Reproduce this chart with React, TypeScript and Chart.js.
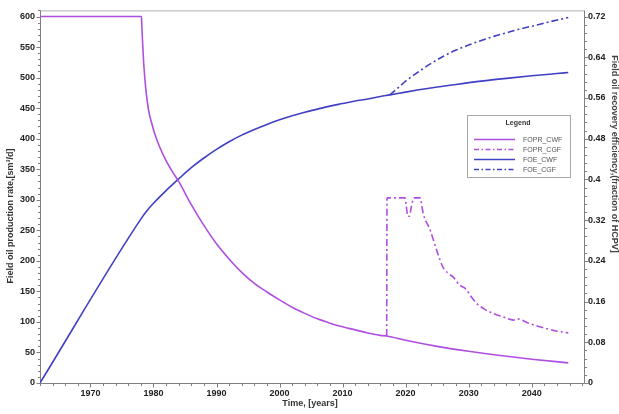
import React, { useEffect, useRef } from "react";
import { Chart, registerables } from "chart.js";

Chart.register(...registerables);

const FONT = "'Liberation Sans', Arial, Helvetica, sans-serif";
const PURPLE = "#b04ee2";
const BLUE = "#4040c4";
const DASH = [7, 3, 2, 3];

// ---- axis ticks ----
const xTickYears = [1970, 1980, 1990, 2000, 2010, 2020, 2030, 2040];
const leftTickValues = [0, 50, 100, 150, 200, 250, 300, 350, 400, 450, 500, 550, 600];
const rightTickValues = [0, 0.08, 0.16, 0.24, 0.32, 0.4, 0.48, 0.56, 0.64, 0.72];

// ---- legend ----
const seriesNames = ["FOPR_CWF", "FOPR_CGF", "FOE_CWF", "FOE_CGF"];
const seriesColors = [PURPLE, PURPLE, BLUE, BLUE];
const seriesDashed = [false, true, false, true];

// ---- series: FOPR_CWF (sm3/d) ----
const foprCwfYears = [1962, 1978.1, 1978.15, 1978.3, 1978.5, 1978.8, 1979.2, 1979.7, 1980.2, 1981, 1982, 1983, 1984, 1986, 1988, 1990, 1992, 1994, 1996, 1998, 2000, 2002, 2004, 2006, 2008, 2010, 2012, 2014, 2016, 2017, 2020, 2025, 2030, 2035, 2040, 2045.8];
const foprCwfValues = [600, 600, 585, 552, 516, 480, 448, 426, 408, 386, 364, 346, 330, 292, 258, 228, 203, 181, 163, 149, 136, 124, 114, 105, 98, 92, 87, 82, 78, 77, 70, 60, 52, 45, 39, 33];

// ---- series: FOPR_CGF (sm3/d) ----
const foprCgfYears = [2017.0, 2017.05, 2019.9, 2020.1, 2020.35, 2020.6, 2020.9, 2021.3, 2022.3, 2022.8, 2023.9, 2025, 2026, 2027, 2027.6, 2028.5, 2029.3, 2029.7, 2030.5, 2031.3, 2032.5, 2033.9, 2035.5, 2037.1, 2037.7, 2038.2, 2039.5, 2041.3, 2043.5, 2045.8];
const foprCgfValues = [77, 303, 303, 290, 273, 273, 288, 303, 303, 277, 250, 215, 188, 178, 173, 161, 156, 152, 140, 130, 121, 114, 108, 103, 105, 104, 98, 92, 86, 82];

// ---- series: FOE_CWF (fraction) ----
const foeCwfYears = [1962, 1978.1, 1979, 1980, 1982, 1984, 1986, 1988, 1990, 1992, 1994, 1996, 1998, 2000, 2002, 2004, 2006, 2008, 2010, 2012, 2014, 2016, 2017.5, 2020, 2024, 2028, 2032, 2036, 2040, 2044, 2045.8];
const foeCwfValues = [0, 0.324, 0.339, 0.353, 0.378, 0.401, 0.423, 0.442, 0.459, 0.474, 0.487, 0.498, 0.508, 0.517, 0.525, 0.532, 0.538, 0.544, 0.549, 0.554, 0.558, 0.563, 0.566, 0.5715, 0.5795, 0.5865, 0.593, 0.5985, 0.6035, 0.608, 0.610];

// ---- series: FOE_CGF (fraction) ----
const foeCgfYears = [2017.5, 2019, 2020, 2022, 2024.2, 2026, 2028, 2030, 2032, 2034, 2036, 2038, 2040.4, 2043, 2045.8];
const foeCgfValues = [0.566, 0.582, 0.593, 0.611, 0.629, 0.642, 0.654, 0.664, 0.673, 0.681, 0.688, 0.695, 0.702, 0.710, 0.718];

const toPoints = (xs: number[], ys: number[]) => xs.map((x, i) => ({ x, y: ys[i] }));

const framePlugin = {
  id: "frameTicks",
  beforeDatasetsDraw(chart: any) {
    const { ctx, chartArea: a, scales } = chart;
    ctx.save();
    ctx.lineWidth = 1;
    ctx.strokeStyle = "#b0b0b0";
    ctx.beginPath();
    ctx.moveTo(a.left, a.top + 0.5);
    ctx.lineTo(a.right, a.top + 0.5);
    ctx.stroke();
    ctx.strokeStyle = "#808080";
    ctx.beginPath();
    ctx.moveTo(Math.round(a.left) + 0.5, a.top);
    ctx.lineTo(Math.round(a.left) + 0.5, Math.round(a.bottom) + 0.5);
    ctx.lineTo(Math.round(a.right) + 0.5, Math.round(a.bottom) + 0.5);
    ctx.lineTo(Math.round(a.right) + 0.5, a.top);
    ctx.stroke();
    const xs = scales.x;
    ctx.beginPath();
    for (let yr = 1962; yr <= 2048; yr += 2) {
      const px = Math.round(xs.getPixelForValue(yr)) + 0.5;
      const len = yr % 10 === 0 ? 4 : 2.5;
      ctx.moveTo(px, Math.round(a.bottom) + 0.5);
      ctx.lineTo(px, Math.round(a.bottom) + 0.5 + len);
    }
    const ys = scales.y;
    for (let v = 0; v <= 610; v += 10) {
      const py = Math.round(ys.getPixelForValue(v)) + 0.5;
      const len = v % 50 === 0 ? 4 : 2.5;
      ctx.moveTo(Math.round(a.left) + 0.5, py);
      ctx.lineTo(Math.round(a.left) + 0.5 - len, py);
    }
    const y1 = scales.y1;
    for (let k = 0; k <= 45; k++) {
      const v = k * 0.016;
      const py = Math.round(y1.getPixelForValue(v)) + 0.5;
      const len = k % 5 === 0 ? 4 : 2.5;
      ctx.moveTo(Math.round(a.right) + 0.5, py);
      ctx.lineTo(Math.round(a.right) + 0.5 + len, py);
    }
    ctx.stroke();
    ctx.restore();
  },
  afterDraw(chart: any) {
    const { ctx } = chart;
    ctx.save();
    ctx.fillStyle = "#333";
    ctx.font = `bold 9px ${FONT}`;
    ctx.textAlign = "center";
    ctx.textBaseline = "middle";
    ctx.fillText("Time, [years]", 310, 404);
    ctx.save();
    ctx.translate(10.5, 216);
    ctx.rotate(-Math.PI / 2);
    ctx.fillText("Field oil production rate,[sm³/d]", 0, 0);
    ctx.restore();
    ctx.save();
    ctx.fillStyle = "#444";
    ctx.translate(614, 154);
    ctx.rotate(Math.PI / 2);
    ctx.fillText("Field oil recovery efficiency,(fraction of HCPV]", 0, 0);
    ctx.restore();

    const bx = 467, by = 115, bw = 103, bh = 62;
    ctx.fillStyle = "#ffffff";
    ctx.fillRect(bx, by, bw, bh);
    ctx.strokeStyle = "#a8a8a8";
    ctx.lineWidth = 1;
    ctx.strokeRect(bx + 0.5, by + 0.5, bw, bh);
    ctx.fillStyle = "#333";
    ctx.font = `bold 7px ${FONT}`;
    ctx.textAlign = "center";
    ctx.fillText("Legend", bx + 51, by + 8);
    ctx.font = `7px ${FONT}`;
    ctx.textAlign = "left";
    seriesNames.forEach((name, i) => {
      const ly = Math.round(by + 24 + i * 10) + 0.5;
      ctx.strokeStyle = seriesColors[i];
      ctx.lineWidth = 1.3;
      ctx.setLineDash(seriesDashed[i] ? [5, 2.5, 1.5, 2.5] : []);
      ctx.beginPath();
      ctx.moveTo(bx + 7, ly);
      ctx.lineTo(bx + 48, ly);
      ctx.stroke();
      ctx.setLineDash([]);
      ctx.fillStyle = "#555";
      ctx.fillText(name, bx + 56, ly + 0.5);
    });
    ctx.restore();
  },
};

export default function App() {
  const ref = useRef<HTMLCanvasElement | null>(null);

  useEffect(() => {
    if (!ref.current) return;
    const tickFont = { family: FONT, size: 9, weight: "bold" as const };
    const mk = (i: number, xs: number[], ys: number[], axis: string) => ({
      label: seriesNames[i],
      data: toPoints(xs, ys),
      borderColor: seriesColors[i],
      borderWidth: 1.6,
      borderDash: seriesDashed[i] ? DASH : [],
      pointRadius: 0,
      yAxisID: axis,
      cubicInterpolationMode: "monotone",
    });
    const chart = new Chart(ref.current, {
      type: "line",
      data: {
        datasets: [
          mk(0, foprCwfYears, foprCwfValues, "y"),
          mk(1, foprCgfYears, foprCgfValues, "y"),
          mk(2, foeCwfYears, foeCwfValues, "y1"),
          mk(3, foeCgfYears, foeCgfValues, "y1"),
        ],
      },
      options: {
        responsive: false,
        animation: false,
        devicePixelRatio: 1,
        layout: { padding: { top: 8, left: 0, right: 0, bottom: 0 } },
        plugins: { legend: { display: false }, tooltip: { enabled: false }, title: { display: false } },
        scales: {
          x: {
            type: "linear",
            min: 1962,
            max: 2048.3,
            grid: { display: false, drawTicks: false },
            border: { display: false },
            ticks: { font: tickFont, color: "#222", padding: 5, maxRotation: 0, autoSkip: false, callback: (v: any) => String(v) },
            afterBuildTicks: (s: any) => { s.ticks = xTickYears.map((v) => ({ value: v })); },
            afterFit: (s: any) => { s.height = 31; },
          },
          y: {
            type: "linear",
            position: "left",
            min: 0,
            max: 610,
            grid: { display: false, drawTicks: false },
            border: { display: false },
            ticks: { font: tickFont, color: "#222", padding: 5, autoSkip: false, callback: (v: any) => String(v) },
            afterBuildTicks: (s: any) => { s.ticks = leftTickValues.map((v) => ({ value: v })); },
            afterFit: (s: any) => { s.width = 40; },
          },
          y1: {
            type: "linear",
            position: "right",
            min: 0,
            max: 0.732,
            grid: { display: false, drawTicks: false },
            border: { display: false },
            ticks: { font: tickFont, color: "#222", padding: 4, autoSkip: false, callback: (v: any) => String(parseFloat(Number(v).toFixed(2))) },
            afterBuildTicks: (s: any) => { s.ticks = rightTickValues.map((v) => ({ value: v })); },
            afterFit: (s: any) => { s.width = 35; },
          },
        },
      },
      plugins: [framePlugin],
    } as any);
    return () => chart.destroy();
  }, []);

  return (
    <div style={{ position: "fixed", left: 0, top: 0, width: 619, height: 414, background: "#fff" }}>
      <canvas ref={ref} width={619} height={414} style={{ width: 619, height: 414, display: "block" }} />
    </div>
  );
}
